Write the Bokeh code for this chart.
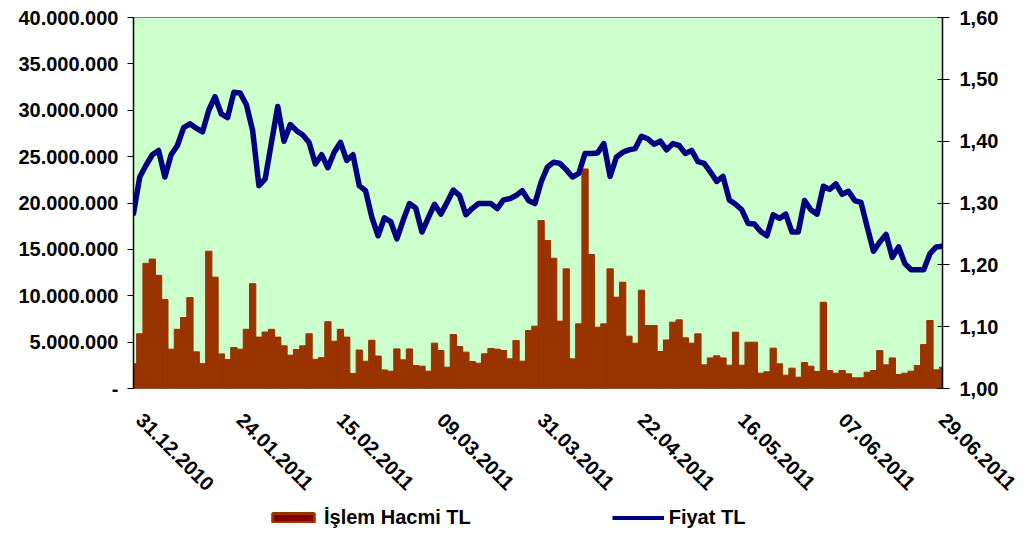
from bokeh.plotting import figure
from bokeh.layouts import column
from bokeh.models import (Range1d, LinearAxis, FixedTicker, CustomJSTickFormatter,
                          Legend, LegendItem, ColumnDataSource)
from bokeh.embed import file_html
from bokeh.resources import INLINE

# ---- data ----
volume_m = [2.68, 5.9, 13.5, 13.95, 12.2, 9.6, 4.24, 6.38, 7.65, 9.8,
            3.95, 2.68, 14.8, 12.0, 3.73, 3.12, 4.42, 4.24, 6.38, 11.3,
            5.54, 6.09, 6.38, 5.54, 4.6, 3.59, 4.2, 4.6, 5.9, 3.15,
            3.33, 7.2, 5.1, 6.38, 5.54, 1.63, 4.15, 2.94, 5.2, 3.5,
            2.0, 1.87, 4.27, 3.09, 4.27, 2.48, 2.41, 1.87, 4.89, 4.1,
            2.3, 5.82, 4.53, 3.92, 2.91, 2.73, 3.74, 4.31, 4.24, 4.1,
            3.2, 5.17, 2.95, 6.25, 6.72, 18.1, 15.95, 14.04, 7.26, 12.9,
            3.2, 6.97, 23.67, 14.44, 6.61, 6.97, 12.9, 9.84, 11.46, 5.64,
            4.89, 10.6, 6.79, 6.79, 3.99, 5.24, 7.15, 7.4, 5.46, 4.89,
            5.89, 2.55, 3.3, 3.52, 3.3, 2.51, 6.07, 2.51, 4.99, 4.99,
            1.65, 1.8, 4.35, 2.66, 1.44, 2.19, 1.22, 2.8, 2.41, 1.83,
            9.3, 1.94, 1.65, 1.94, 1.58, 1.15, 1.15, 1.76, 1.94, 4.09,
            2.55, 3.3, 1.51, 1.65, 1.87, 2.48, 4.74, 7.33, 2.01, 2.3]
volume_tl = [v * 1_000_000 for v in volume_m]

price_tl = [1.283, 1.342, 1.361, 1.378, 1.385, 1.342, 1.378, 1.393, 1.422, 1.428,
            1.421, 1.415, 1.450, 1.472, 1.444, 1.438, 1.479, 1.478, 1.459, 1.417,
            1.328, 1.339, 1.398, 1.456, 1.400, 1.427, 1.417, 1.410, 1.398, 1.363,
            1.378, 1.357, 1.382, 1.398, 1.369, 1.378, 1.328, 1.320, 1.277, 1.247,
            1.276, 1.270, 1.242, 1.272, 1.299, 1.292, 1.253, 1.276, 1.298, 1.282,
            1.301, 1.321, 1.312, 1.281, 1.291, 1.299, 1.299, 1.299, 1.291, 1.305,
            1.307, 1.312, 1.320, 1.304, 1.299, 1.334, 1.358, 1.366, 1.364, 1.354,
            1.342, 1.348, 1.380, 1.380, 1.381, 1.396, 1.343, 1.374, 1.382, 1.386,
            1.388, 1.408, 1.404, 1.395, 1.400, 1.386, 1.396, 1.393, 1.380, 1.385,
            1.367, 1.364, 1.350, 1.335, 1.343, 1.305, 1.298, 1.289, 1.267, 1.266,
            1.254, 1.247, 1.281, 1.275, 1.282, 1.253, 1.253, 1.304, 1.289, 1.282,
            1.327, 1.322, 1.331, 1.314, 1.319, 1.304, 1.301, 1.261, 1.222, 1.237,
            1.249, 1.212, 1.229, 1.202, 1.192, 1.192, 1.192, 1.218, 1.229, 1.230]

tick_labels = ["31.12.2010", "24.01.2011", "15.02.2011", "09.03.2011", "31.03.2011",
               "22.04.2011", "16.05.2011", "07.06.2011", "29.06.2011"]
tick_every = 16   # one label every 16 trading days, starting at day index 1

series_names = ["İşlem Hacmi TL", "Fiyat TL"]

# ---- main figure ----
FONT = "Liberation Sans"
n = len(volume_tl)
idx = list(range(n))

p = figure(frame_width=809, frame_height=371, output_backend="svg", toolbar_location=None,
           x_range=Range1d(0, n - 1), y_range=Range1d(0, 40_000_000),
           min_border_left=133, min_border_right=81, min_border_top=17, min_border_bottom=100)
p.background_fill_color = "#CCFFCC"
p.border_fill_color = "white"
p.outline_line_color = "#808080"
p.outline_line_width = 1
p.grid.visible = False
p.extra_y_ranges = {"price": Range1d(1.0, 1.6)}

src = ColumnDataSource(dict(x=idx, vol=volume_tl, price=price_tl))
p.vbar(x="x", top="vol", width=1.0, source=src,
       fill_color="#993300", line_color="#993300", line_width=1)
p.line(x="x", y="price", source=src, y_range_name="price",
       line_color="#000080", line_width=5.5, line_join="round", line_cap="round")

# left axis
yl = p.yaxis[0]
yl.ticker = FixedTicker(ticks=[i * 5_000_000 for i in range(9)])
yl.formatter = CustomJSTickFormatter(code=r"""
if (Math.abs(tick) < 1) { return '-'; }
return Math.round(tick).toString().replace(/\B(?=(\d{3})+(?!\d))/g, '.');
""")
yl.major_tick_out = 6
yl.major_tick_in = 0
yl.minor_tick_out = 0
yl.minor_tick_in = 0
yl.major_label_standoff = 9
yl.axis_line_color = "black"
yl.axis_line_width = 1.5

# right axis
yr = LinearAxis(y_range_name="price")
yr.ticker = FixedTicker(ticks=[1.0, 1.1, 1.2, 1.3, 1.4, 1.5, 1.6])
yr.formatter = CustomJSTickFormatter(code="return tick.toFixed(2).replace('.', ',');")
yr.major_tick_out = 7
yr.major_tick_in = 5
yr.minor_tick_out = 0
yr.minor_tick_in = 0
yr.major_label_standoff = 10
yr.axis_line_color = "black"
yr.axis_line_width = 1.5
p.add_layout(yr, "right")

# x axis
xa = p.xaxis[0]
tick_pos = [1 + tick_every * k for k in range(len(tick_labels))]
xa.ticker = FixedTicker(ticks=tick_pos)
xa.major_label_overrides = {t: lab for t, lab in zip(tick_pos, tick_labels)}
xa.major_label_orientation = -0.785398
xa.axis_line_color = None
xa.major_tick_line_color = None
xa.minor_tick_line_color = None
xa.major_tick_out = 0
xa.major_tick_in = 0
xa.major_label_standoff = 28

for ax in (yl, yr, xa):
    ax.major_label_text_font = FONT
    ax.major_label_text_font_style = "bold"
    ax.major_label_text_font_size = "20px"
    ax.major_label_text_color = "black"

# ---- legend strip (separate transparent figure just under the axis labels) ----
lf = figure(width=1023, height=40, output_backend="svg", toolbar_location=None,
            x_range=Range1d(0, 1), y_range=Range1d(0, 1),
            min_border=0, margin=(-2, 0, 0, 0))
lf.axis.visible = False
lf.grid.visible = False
lf.outline_line_color = None
lf.background_fill_alpha = 0
lf.border_fill_alpha = 0
# swatch renderers: a single NaN point each, so nothing is drawn in the strip itself
nan = float("nan")
dummy_bar = lf.vbar(x=[nan], top=[nan], width=1, fill_color="#800000",
                    line_color="#993300", line_width=3)
dummy_line = lf.line(x=[nan, nan], y=[nan, nan], line_color="#000080", line_width=4)

legend = Legend(items=[LegendItem(label=series_names[0], renderers=[dummy_bar]),
                       LegendItem(label=series_names[1], renderers=[dummy_line])],
                location=(134, 9), orientation="horizontal",
                padding=0, margin=0, spacing=141,
                glyph_width=52, glyph_height=11, label_standoff=5, label_height=20,
                label_text_font=FONT, label_text_font_style="bold",
                label_text_font_size="20px", label_text_color="black",
                background_fill_alpha=0, border_line_color=None)
lf.add_layout(legend, "center")

layout = column(p, lf, spacing=0)
open("out.html", "w").write(file_html(layout, INLINE))
